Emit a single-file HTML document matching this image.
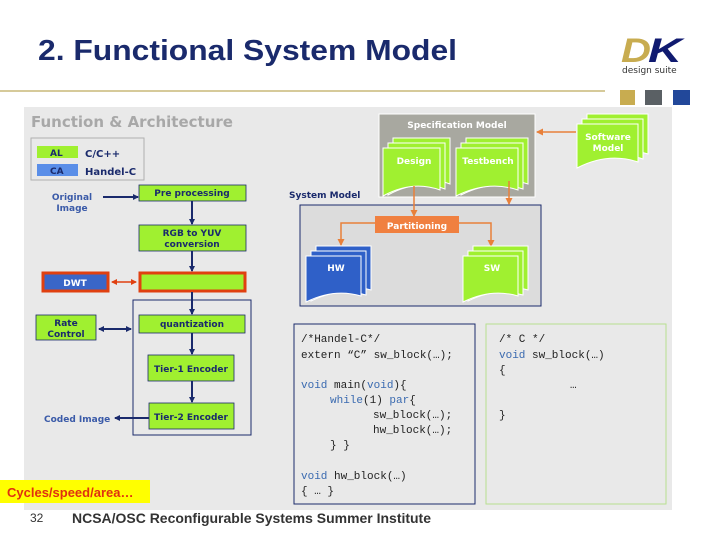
<!DOCTYPE html>
<html><head><meta charset="utf-8"><style>
html,body{margin:0;padding:0;background:#fff;}
svg{display:block;}
.v{font-family:"DejaVu Sans",Verdana,sans-serif;font-weight:bold;}
.m{font-family:"Liberation Mono",monospace;font-size:11px;fill:#222;}
.k{fill:#3a6ab0;}
</style></head><body>
<svg width="720" height="540" viewBox="0 0 720 540" xmlns="http://www.w3.org/2000/svg">
<defs>
<marker id="an" markerWidth="6" markerHeight="6" refX="5" refY="3" orient="auto" markerUnits="userSpaceOnUse"><path d="M0,0 L6,3 L0,6z" fill="#1a2a6c"/></marker>
<marker id="ans" markerWidth="6" markerHeight="6" refX="1" refY="3" orient="auto" markerUnits="userSpaceOnUse"><path d="M6,0 L0,3 L6,6z" fill="#1a2a6c"/></marker>
<marker id="ao" markerWidth="7" markerHeight="7" refX="6" refY="3.5" orient="auto" markerUnits="userSpaceOnUse"><path d="M0,0 L7,3.5 L0,7z" fill="#e8803a"/></marker>
<marker id="ar" markerWidth="6" markerHeight="6" refX="5" refY="3" orient="auto" markerUnits="userSpaceOnUse"><path d="M0,0 L6,3 L0,6z" fill="#e04010"/></marker>
<marker id="ars" markerWidth="6" markerHeight="6" refX="1" refY="3" orient="auto" markerUnits="userSpaceOnUse"><path d="M6,0 L0,3 L6,6z" fill="#e04010"/></marker>
</defs>
<text x="38" y="60" font-family="Liberation Sans, Arial, sans-serif" font-weight="bold" font-size="29" fill="#1a2a6c" textLength="419" lengthAdjust="spacingAndGlyphs">2. Functional System Model</text>
<line x1="0" y1="91" x2="605" y2="91" stroke="#c8b878" stroke-width="1.5"/>
<!-- logo -->
<text x="621" y="62" font-family="Liberation Sans, sans-serif" font-weight="bold" font-style="italic" font-size="34" fill="#c8ac50" textLength="30" lengthAdjust="spacingAndGlyphs">D</text>
<text x="648" y="62" font-family="Liberation Sans, sans-serif" font-weight="bold" font-style="italic" font-size="34" fill="#101a70" textLength="34" lengthAdjust="spacingAndGlyphs">K</text>
<text x="622" y="73" font-family="DejaVu Sans, sans-serif" font-size="9" fill="#333">design suite</text>
<rect x="620" y="90" width="15" height="15" fill="#c8ac50"/>
<rect x="645" y="90" width="17" height="15" fill="#5a6064"/>
<rect x="673" y="90" width="17" height="15" fill="#22489a"/>
<!-- panel -->
<rect x="24" y="107" width="648" height="403" fill="#e9e9e9"/>
<text x="31" y="127" class="v" font-size="15" fill="#a8a8a8">Function &amp; Architecture</text>
<!-- legend -->
<rect x="31" y="138" width="113" height="42" fill="none" stroke="#b0b0b0"/>
<rect x="37" y="146" width="41" height="12" fill="#a0f030"/>
<rect x="37" y="164" width="41" height="12" fill="#5a8ee8"/>
<text x="50" y="156" class="v" font-size="9" fill="#1a2a6c">AL</text>
<text x="50" y="174" class="v" font-size="9" fill="#1a2a6c">CA</text>
<text x="85" y="157" class="v" font-size="10" fill="#1a2a6c" font-weight="normal">C/C++</text>
<text x="85" y="175" class="v" font-size="10" fill="#1a2a6c">Handel-C</text>
<!-- left flow -->
<text x="72" y="200" class="v" font-size="9" fill="#3a5aa8" text-anchor="middle">Original</text>
<text x="72" y="211" class="v" font-size="9" fill="#3a5aa8" text-anchor="middle">Image</text>
<line x1="103" y1="197" x2="138" y2="197" stroke="#1a2a6c" stroke-width="2" marker-end="url(#an)"/>
<rect x="139" y="185" width="107" height="16" fill="#a0f030" stroke="#1a2a6c" stroke-width="0.8"/>
<text x="192" y="196" class="v" font-size="9" fill="#1a2a6c" text-anchor="middle">Pre processing</text>
<line x1="192" y1="201" x2="192" y2="224" stroke="#1a2a6c" stroke-width="2" marker-end="url(#an)"/>
<rect x="139" y="225" width="107" height="26" fill="#a0f030" stroke="#1a2a6c" stroke-width="0.8"/>
<text x="192" y="236" class="v" font-size="9" fill="#1a2a6c" text-anchor="middle">RGB to YUV</text>
<text x="192" y="247" class="v" font-size="9" fill="#1a2a6c" text-anchor="middle">conversion</text>
<line x1="192" y1="251" x2="192" y2="271" stroke="#1a2a6c" stroke-width="2" marker-end="url(#an)"/>
<rect x="140" y="273" width="105" height="18" fill="#a0f030" stroke="#e04010" stroke-width="3"/>
<rect x="43" y="273" width="65" height="18" fill="#3a66c8" stroke="#e04010" stroke-width="3"/>
<text x="75" y="286" class="v" font-size="9" fill="#fff" text-anchor="middle">DWT</text>
<line x1="112" y1="282" x2="136" y2="282" stroke="#e04010" stroke-width="1.5" marker-start="url(#ars)" marker-end="url(#ar)"/>
<rect x="133" y="300" width="118" height="135" fill="none" stroke="#1a2a6c" stroke-width="1"/>
<line x1="192" y1="292" x2="192" y2="314" stroke="#1a2a6c" stroke-width="2" marker-end="url(#an)"/>
<rect x="139" y="315" width="106" height="18" fill="#a0f030" stroke="#1a2a6c" stroke-width="0.8"/>
<text x="192" y="327" class="v" font-size="9" fill="#1a2a6c" text-anchor="middle">quantization</text>
<rect x="36" y="315" width="60" height="25" fill="#a0f030" stroke="#1a2a6c" stroke-width="0.8"/>
<text x="66" y="326" class="v" font-size="9" fill="#1a2a6c" text-anchor="middle">Rate</text>
<text x="66" y="337" class="v" font-size="9" fill="#1a2a6c" text-anchor="middle">Control</text>
<line x1="99" y1="329" x2="131" y2="329" stroke="#1a2a6c" stroke-width="2" marker-start="url(#ans)" marker-end="url(#an)"/>
<line x1="192" y1="333" x2="192" y2="354" stroke="#1a2a6c" stroke-width="2" marker-end="url(#an)"/>
<rect x="148" y="355" width="86" height="26" fill="#a0f030" stroke="#1a2a6c" stroke-width="0.8"/>
<text x="191" y="372" class="v" font-size="9" fill="#1a2a6c" text-anchor="middle">Tier-1 Encoder</text>
<line x1="192" y1="381" x2="192" y2="402" stroke="#1a2a6c" stroke-width="2" marker-end="url(#an)"/>
<rect x="149" y="403" width="85" height="26" fill="#a0f030" stroke="#1a2a6c" stroke-width="0.8"/>
<text x="191" y="420" class="v" font-size="9" fill="#1a2a6c" text-anchor="middle">Tier-2 Encoder</text>
<line x1="149" y1="418" x2="115" y2="418" stroke="#1a2a6c" stroke-width="2" marker-end="url(#an)"/>
<text x="44" y="422" class="v" font-size="9" fill="#3a5aa8">Coded Image</text>
<!-- cycles -->
<rect x="0" y="480" width="150" height="23" fill="#ffff00"/>
<text x="7" y="497" font-family="Liberation Sans, sans-serif" font-weight="bold" font-size="13" fill="#e03010">Cycles/speed/area…</text>
<text x="30" y="522" font-family="Liberation Sans, sans-serif" font-size="12" fill="#333">32</text>
<text x="72" y="523" font-family="Liberation Sans, sans-serif" font-weight="bold" font-size="14" fill="#333" textLength="359" lengthAdjust="spacingAndGlyphs">NCSA/OSC Reconfigurable Systems Summer Institute</text>
<!-- spec model -->
<rect x="379" y="114" width="156" height="83" fill="#a8a8a0" stroke="#fff" stroke-width="1"/>
<text x="457" y="128" class="v" font-size="9" fill="#fff" text-anchor="middle">Specification Model</text>
<g fill="#a0f030" stroke="#fff" stroke-width="1">
<path d="M393,138 h57 v46 q-28,-10 -57,6 z"/><path d="M388,143 h57 v46 q-28,-10 -57,6 z"/><path d="M383,148 h57 v42 q-28,-10 -57,6 z"/>
<path d="M466,138 h62 v46 q-30,-10 -62,6 z"/><path d="M461,143 h62 v46 q-30,-10 -62,6 z"/><path d="M456,148 h62 v42 q-30,-10 -62,6 z"/>
<path d="M587,114 h61 v40 q-30,-10 -61,6 z"/><path d="M582,119 h61 v40 q-30,-10 -61,6 z"/><path d="M577,124 h61 v38 q-30,-10 -61,6 z"/>
</g>
<text x="414" y="164" class="v" font-size="9" fill="#fff" text-anchor="middle">Design</text>
<text x="488" y="164" class="v" font-size="9" fill="#fff" text-anchor="middle">Testbench</text>
<text x="608" y="140" class="v" font-size="9" fill="#fff" text-anchor="middle">Software</text>
<text x="608" y="151" class="v" font-size="9" fill="#fff" text-anchor="middle">Model</text>
<line x1="576" y1="132" x2="537" y2="132" stroke="#e8803a" stroke-width="1.5" marker-end="url(#ao)"/>
<text x="289" y="198" class="v" font-size="9" fill="#1a2a6c">System Model</text>
<rect x="300" y="205" width="241" height="101" fill="#dcdcdc" stroke="#1a2a6c" stroke-width="1"/>
<line x1="414" y1="186" x2="414" y2="216" stroke="#e8803a" stroke-width="1.5" marker-end="url(#ao)"/>
<line x1="509" y1="181" x2="509" y2="204" stroke="#e8803a" stroke-width="1.5" marker-end="url(#ao)"/>
<rect x="375" y="216" width="84" height="17" fill="#f08040"/>
<text x="417" y="229" class="v" font-size="9" fill="#fff" text-anchor="middle">Partitioning</text>
<polyline points="375,223 341,223 341,245" fill="none" stroke="#e8803a" stroke-width="1.5" marker-end="url(#ao)"/>
<polyline points="459,223 491,223 491,246" fill="none" stroke="#e8803a" stroke-width="1.5" marker-end="url(#ao)"/>
<g fill="#2f60c8" stroke="#fff" stroke-width="1">
<path d="M316,246 h55 v44 q-27,-8 -55,6 z"/><path d="M311,251 h55 v44 q-27,-8 -55,6 z"/><path d="M306,256 h55 v40 q-27,-8 -55,6 z"/>
</g>
<g fill="#a0f030" stroke="#fff" stroke-width="1">
<path d="M473,246 h55 v44 q-27,-8 -55,6 z"/><path d="M468,251 h55 v44 q-27,-8 -55,6 z"/><path d="M463,256 h55 v40 q-27,-8 -55,6 z"/>
</g>
<text x="336" y="271" class="v" font-size="9" fill="#fff" text-anchor="middle">HW</text>
<text x="492" y="271" class="v" font-size="9" fill="#fff" text-anchor="middle">SW</text>
<!-- code boxes -->
<rect x="294" y="324" width="181" height="180" fill="none" stroke="#1a2a6c" stroke-width="1"/>
<rect x="486" y="324" width="180" height="180" fill="none" stroke="#b8e090" stroke-width="1"/>
<text class="m" x="301" y="342">/*Handel-C*/</text>
<text class="m" x="301" y="358">extern “C” sw_block(…);</text>
<text class="m" x="301" y="388"><tspan class="k">void</tspan> main(<tspan class="k">void</tspan>){</text>
<text class="m" x="330" y="403"><tspan class="k">while</tspan>(1) <tspan class="k">par</tspan>{</text>
<text class="m" x="373" y="418">sw_block(…);</text>
<text class="m" x="373" y="433">hw_block(…);</text>
<text class="m" x="330" y="448">} }</text>
<text class="m" x="301" y="479"><tspan class="k">void</tspan> hw_block(…)</text>
<text class="m" x="301" y="494">{ … }</text>
<text class="m" x="499" y="342">/* C */</text>
<text class="m" x="499" y="358"><tspan class="k">void</tspan> sw_block(…)</text>
<text class="m" x="499" y="373">{</text>
<text class="m" x="570" y="388">…</text>
<text class="m" x="499" y="418">}</text>
</svg>
</body></html>
